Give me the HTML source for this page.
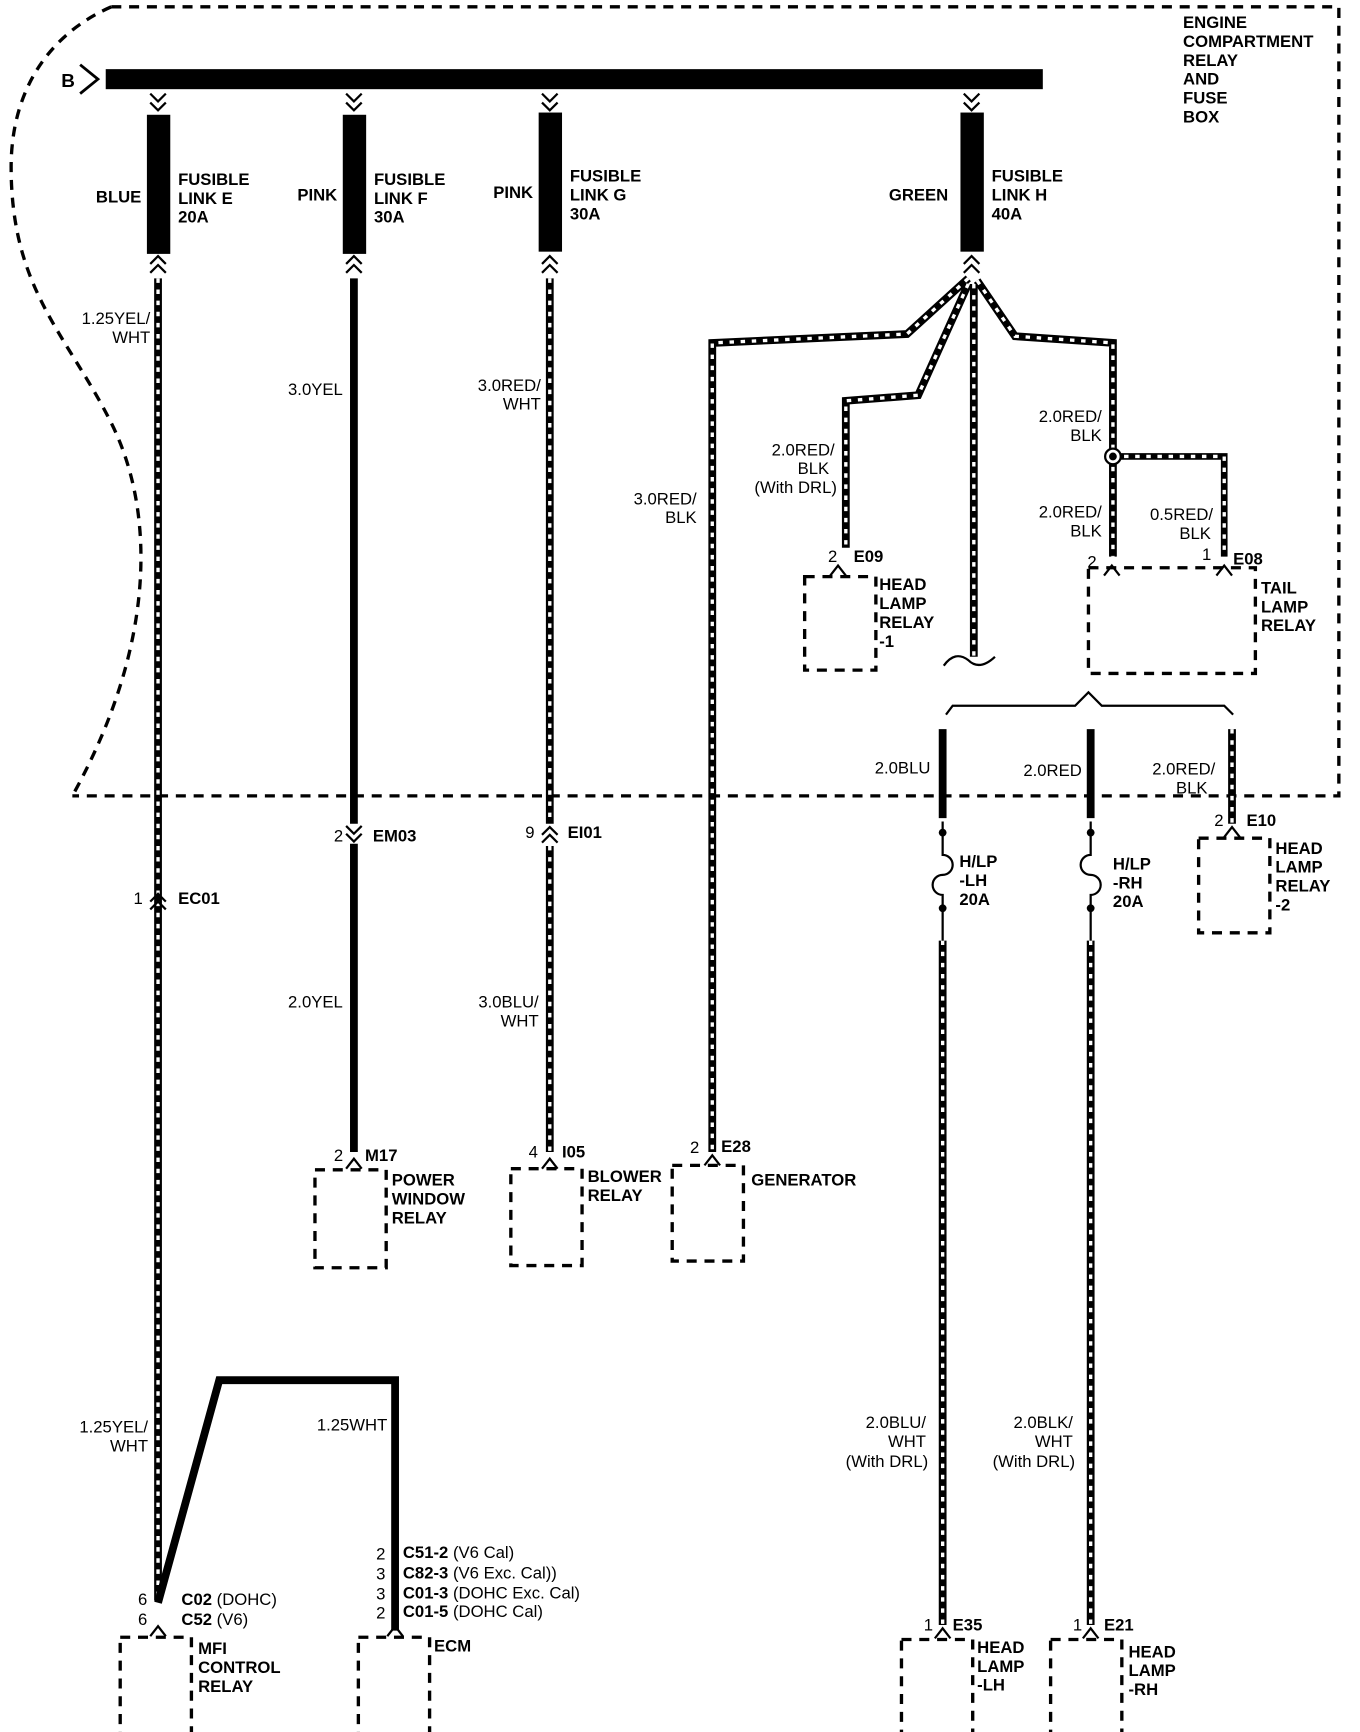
<!DOCTYPE html>
<html><head><meta charset="utf-8"><style>
html,body{margin:0;padding:0;background:#fff}
svg{display:block}
text{font-family:"Liberation Sans",sans-serif;font-weight:bold;font-size:15px;fill:#000}
.n{font-weight:normal}
.r{text-anchor:end}
.bx{fill:none;stroke:#000;stroke-width:3;stroke-dasharray:9 7}
.h{fill:none;stroke:#000;stroke-width:7}
.hw{fill:none;stroke:#fff;stroke-width:3;stroke-dasharray:4 6}
.s{fill:none;stroke:#000;stroke-width:7}
.c{fill:none;stroke:#000;stroke-width:2}
</style></head><body>
<svg width="1360" height="1732" viewBox="0 0 1222 1556" xmlns="http://www.w3.org/2000/svg">
<defs>
<path id="w1" d="M142,250 L142,1438"/>
<path id="w2" d="M494,250 L494,740 M494,760 L494,1035"/>
<path id="w3" d="M870,250 L815,300 L640,308 L640,1035"/>
<path id="w4" d="M870,255 L825,355 L760,360 L760,492"/>
<path id="w5" d="M875,255 L875,590"/>
<path id="w6" d="M878,252 L912,302 L1000,308 L1000,500"/>
<path id="w7" d="M1000,410 L1100,410 L1100,500"/>
<path id="w8" d="M1107,655 L1107,740"/>
<path id="w9" d="M847,845 L847,1460"/>
<path id="w10" d="M980,845 L980,1460"/>
</defs>
<!-- boundary -->
<path d="M100,6 C45,30 10,80 10,150 C10,260 60,300 100,380 C140,460 140,580 65,715" class="bx"/>
<path d="M100,6 L1203,6 L1203,715 L65,715" class="bx"/>
<text x="1063" y="25">ENGINE</text><text x="1063" y="42">COMPARTMENT</text><text x="1063" y="59">RELAY</text><text x="1063" y="76">AND</text><text x="1063" y="93">FUSE</text><text x="1063" y="110">BOX</text>
<!-- bus -->
<text x="55" y="78" style="font-size:17px">B</text>
<polyline points="72,58 88,71 72,84" class="c" style="stroke-width:2.5"/>
<rect x="95" y="62" width="842" height="18" fill="#000"/>
<!-- fuses -->
<g class="c">
<polyline points="135,84 142,91 149,84"/><polyline points="135,92 142,99 149,92"/>
<polyline points="311,84 318,91 325,84"/><polyline points="311,92 318,99 325,92"/>
<polyline points="487,84 494,91 501,84"/><polyline points="487,92 494,99 501,92"/>
<polyline points="866,84 873,91 880,84"/><polyline points="866,92 873,99 880,92"/>
<polyline points="135,237 142,230 149,237"/><polyline points="135,245 142,238 149,245"/>
<polyline points="311,237 318,230 325,237"/><polyline points="311,245 318,238 325,245"/>
<polyline points="487,237 494,230 501,237"/><polyline points="487,245 494,238 501,245"/>
<polyline points="866,237 873,230 880,237"/><polyline points="866,245 873,238 880,245"/>
</g>
<rect x="132" y="103" width="21" height="125" fill="#000"/>
<rect x="308" y="103" width="21" height="125" fill="#000"/>
<rect x="484" y="101" width="21" height="125" fill="#000"/>
<rect x="863" y="101" width="21" height="125" fill="#000"/>
<text x="127" y="182" class="r">BLUE</text>
<text x="160" y="166">FUSIBLE</text><text x="160" y="183">LINK E</text><text x="160" y="200">20A</text>
<text x="303" y="180" class="r">PINK</text>
<text x="336" y="166">FUSIBLE</text><text x="336" y="183">LINK F</text><text x="336" y="200">30A</text>
<text x="479" y="178" class="r">PINK</text>
<text x="512" y="163">FUSIBLE</text><text x="512" y="180">LINK G</text><text x="512" y="197">30A</text>
<text x="852" y="180" class="r">GREEN</text>
<text x="891" y="163">FUSIBLE</text><text x="891" y="180">LINK H</text><text x="891" y="197">40A</text>

<g class="h"><use href="#w1"/><use href="#w2"/><use href="#w3"/><use href="#w4"/><use href="#w5"/><use href="#w6"/><use href="#w7" style="stroke-width:6"/><use href="#w8"/><use href="#w9"/><use href="#w10"/></g>
<g class="hw"><use href="#w1"/><use href="#w2"/><use href="#w3"/><use href="#w4"/><use href="#w5"/><use href="#w6"/><use href="#w7"/><use href="#w8"/><use href="#w9"/><use href="#w10"/></g>
<circle cx="1000" cy="410" r="7" fill="#fff" stroke="#000" stroke-width="2"/><circle cx="1000" cy="410" r="3.5" fill="#000"/>

<!-- solid wires -->
<g class="s">
<path d="M318,250 L318,740"/><path d="M318,758 L318,1035"/>
<path d="M142,1440 L197,1240 L355,1240 L355,1465"/>
<path d="M847,655 L847,735"/><path d="M980,655 L980,735"/>
</g>
<path d="M848,598 q10,-14 22,-5 q10,10 24,-3" class="c"/>
<!-- brace -->
<path d="M850,642 L856,634 L966,634 L978,622 L990,634 L1100,634 L1108,642" class="c"/>
<!-- small fuses -->
<g class="c">
<path d="M847,738 L847,768 a9,9 0 0 1 0,18 a9,9 0 0 0 0,18 L847,845"/>
<path d="M980,738 L980,768 a9,9 0 0 0 0,18 a9,9 0 0 1 0,18 L980,845"/>
</g>
<circle cx="847" cy="748" r="3.5"/><circle cx="847" cy="816" r="3.5"/>
<circle cx="980" cy="748" r="3.5"/><circle cx="980" cy="816" r="3.5"/>
<text x="862" y="779">H/LP</text><text x="862" y="796">-LH</text><text x="862" y="813">20A</text>
<text x="1000" y="781">H/LP</text><text x="1000" y="798">-RH</text><text x="1000" y="815">20A</text>

<!-- wire labels -->
<g>
<text x="135" y="291" class="r n">1.25YEL/</text><text x="135" y="308" class="r n">WHT</text>
<text x="308" y="355" class="r n">3.0YEL</text>
<text x="486" y="351" class="r n">3.0RED/</text><text x="486" y="368" class="r n">WHT</text>
<text x="626" y="453" class="r n">3.0RED/</text><text x="626" y="470" class="r n">BLK</text>
<text x="750" y="409" class="r n">2.0RED/</text><text x="745" y="426" class="r n">BLK</text><text x="752" y="443" class="r n">(With DRL)</text>
<text x="990" y="379" class="r n">2.0RED/</text><text x="990" y="396" class="r n">BLK</text>
<text x="990" y="465" class="r n">2.0RED/</text><text x="990" y="482" class="r n">BLK</text>
<text x="1090" y="467" class="r n">0.5RED/</text><text x="1088" y="484" class="r n">BLK</text>
<text x="836" y="695" class="r n">2.0BLU</text>
<text x="972" y="697" class="r n">2.0RED</text>
<text x="1092" y="696" class="r n">2.0RED/</text><text x="1085" y="713" class="r n">BLK</text>
<text x="308" y="905" class="r n">2.0YEL</text>
<text x="484" y="905" class="r n">3.0BLU/</text><text x="484" y="922" class="r n">WHT</text>
<text x="133" y="1287" class="r n">1.25YEL/</text><text x="133" y="1304" class="r n">WHT</text>
<text x="348" y="1285" class="r n">1.25WHT</text>
<text x="832" y="1283" class="r n">2.0BLU/</text><text x="832" y="1300" class="r n">WHT</text><text x="834" y="1318" class="r n">(With DRL)</text>
<text x="964" y="1283" class="r n">2.0BLK/</text><text x="964" y="1300" class="r n">WHT</text><text x="966" y="1318" class="r n">(With DRL)</text>
</g>

<!-- inline connectors -->
<g class="c">
<polyline points="311,742 318,749 325,742"/><polyline points="311,749 318,756 325,749"/>
<polyline points="487,750 494,743 501,750"/><polyline points="487,757 494,750 501,757"/>
<polyline points="135,810 142,803 149,810"/><polyline points="135,817 142,810 149,817"/>
</g>
<text x="300" y="756" class="n">2</text><text x="335" y="756">EM03</text>
<text x="472" y="753" class="n">9</text><text x="510" y="753">EI01</text>
<text x="120" y="812" class="n">1</text><text x="160" y="812">EC01</text>

<!-- component boxes -->
<g class="c">
<polyline points="746,517 753,508 760,517"/>
<polyline points="992,517 999,508 1006,517"/><polyline points="1093,517 1100,508 1107,517"/>
<polyline points="1100,752 1107,743 1114,752"/>
<polyline points="311,1050 318,1041 325,1050"/>
<polyline points="487,1050 494,1041 501,1050"/>
<polyline points="633,1047 640,1038 647,1047"/>
<polyline points="135,1470 142,1461 149,1470"/>
<polyline points="348,1470 355,1461 362,1470"/>
<polyline points="840,1472 847,1463 854,1472"/>
<polyline points="973,1472 980,1463 987,1472"/>
</g>
<rect x="723" y="518" width="64" height="84" class="bx"/>
<text x="744" y="505" class="n">2</text><text x="767" y="505">E09</text>
<text x="790" y="530">HEAD</text><text x="790" y="547">LAMP</text><text x="790" y="564">RELAY</text><text x="790" y="581">-1</text>
<rect x="978" y="510" width="150" height="95" class="bx"/>
<text x="977" y="510" class="n">2</text><text x="1080" y="503" class="n">1</text><text x="1108" y="507">E08</text>
<text x="1133" y="533">TAIL</text><text x="1133" y="550">LAMP</text><text x="1133" y="567">RELAY</text>
<rect x="1077" y="753" width="64" height="85" class="bx"/>
<text x="1091" y="742" class="n">2</text><text x="1120" y="742">E10</text>
<text x="1146" y="767">HEAD</text><text x="1146" y="784">LAMP</text><text x="1146" y="801">RELAY</text><text x="1146" y="818">-2</text>
<rect x="283" y="1051" width="64" height="88" class="bx"/>
<text x="300" y="1043" class="n">2</text><text x="328" y="1043">M17</text>
<text x="352" y="1065">POWER</text><text x="352" y="1082">WINDOW</text><text x="352" y="1099">RELAY</text>
<rect x="459" y="1050" width="64" height="87" class="bx"/>
<text x="475" y="1040" class="n">4</text><text x="505" y="1040">I05</text>
<text x="528" y="1062">BLOWER</text><text x="528" y="1079">RELAY</text>
<rect x="604" y="1047" width="64" height="86" class="bx"/>
<text x="620" y="1036" class="n">2</text><text x="648" y="1035">E28</text>
<text x="675" y="1065">GENERATOR</text>
<rect x="108" y="1471" width="64" height="87" class="bx"/>
<text x="124" y="1442" class="n">6</text><text x="124" y="1460" class="n">6</text>
<text x="163" y="1442">C02 <tspan style="font-weight:normal">(DOHC)</tspan></text>
<text x="163" y="1460">C52 <tspan style="font-weight:normal">(V6)</tspan></text>
<text x="178" y="1486">MFI</text><text x="178" y="1503">CONTROL</text><text x="178" y="1520">RELAY</text>
<rect x="322" y="1471" width="64" height="87" class="bx"/>
<text x="338" y="1401" class="n">2</text><text x="338" y="1419" class="n">3</text><text x="338" y="1437" class="n">3</text><text x="338" y="1454" class="n">2</text>
<text x="362" y="1400">C51-2 <tspan style="font-weight:normal">(V6 Cal)</tspan></text>
<text x="362" y="1418">C82-3 <tspan style="font-weight:normal">(V6 Exc. Cal))</tspan></text>
<text x="362" y="1436">C01-3 <tspan style="font-weight:normal">(DOHC Exc. Cal)</tspan></text>
<text x="362" y="1453">C01-5 <tspan style="font-weight:normal">(DOHC Cal)</tspan></text>
<text x="390" y="1484">ECM</text>
<rect x="810" y="1473" width="64" height="85" class="bx"/>
<text x="830" y="1465" class="n">1</text><text x="856" y="1465">E35</text>
<text x="878" y="1485">HEAD</text><text x="878" y="1502">LAMP</text><text x="878" y="1519">-LH</text>
<rect x="944" y="1473" width="64" height="85" class="bx"/>
<text x="964" y="1465" class="n">1</text><text x="992" y="1465">E21</text>
<text x="1014" y="1489">HEAD</text><text x="1014" y="1506">LAMP</text><text x="1014" y="1523">-RH</text>
</svg>
</body></html>
